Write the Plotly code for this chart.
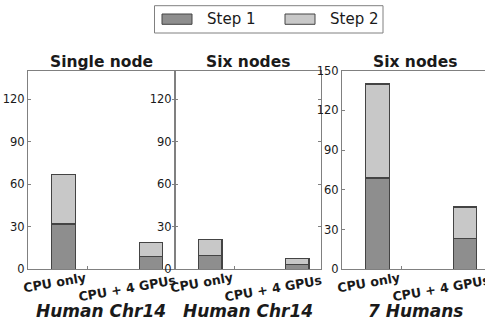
import plotly.graph_objects as go

# ---- data ----
categories = ["CPU only", "CPU + 4 GPUs"]
panel_titles = ["Single node", "Six nodes", "Six nodes"]
group_labels = ["Human Chr14", "Human Chr14", "7 Humans"]
series_names = ["Step 1", "Step 2"]
step1 = [[32, 9], [10, 3.5], [69, 23]]
step2 = [[35, 10], [11, 4], [71, 24]]
y_max = [140, 140, 150]
y_ticks = [[0, 30, 60, 90, 120], [0, 30, 60, 90, 120], [0, 30, 60, 90, 120, 150]]

W, H = 485, 320
def px(x): return x / W
def py(y): return 1 - y / H

colors = ["#8e8e8e", "#c8c8c8"]
edge = "#444444"
axis_col = "#808080"
text_col = "#1a1a1a"
FONT = "DejaVu Sans"

domains = [(28, 175), (175, 321), (342, 485)]
xranges = [[-0.406, 1.274], [-0.406, 1.274], [-0.406, 1.228]]
ydom = [py(269.3), py(70.7)]

fig = go.Figure()
xs = [0, 1]
for p in range(3):
    xa = "x" if p == 0 else f"x{p+1}"
    ya = "y" if p == 0 else f"y{p+1}"
    for s, vals in enumerate([step1[p], step2[p]]):
        fig.add_trace(go.Bar(
            x=xs, y=vals, xaxis=xa, yaxis=ya, width=0.27,
            name=series_names[s], showlegend=False, hoverinfo="skip",
            marker=dict(color=colors[s], line=dict(color=edge, width=1.2)),
        ))

layout = dict(
    width=W, height=H, margin=dict(l=0, r=0, t=0, b=0, autoexpand=False),
    barmode="stack", plot_bgcolor="white", paper_bgcolor="white",
    font=dict(family=FONT, color=text_col), showlegend=False,
)
annotations = []
shapes = []
for p in range(3):
    xk = "xaxis" if p == 0 else f"xaxis{p+1}"
    yk = "yaxis" if p == 0 else f"yaxis{p+1}"
    xref = "x" if p == 0 else f"x{p+1}"
    d0, d1 = domains[p]
    layout[xk] = dict(
        domain=[px(d0), px(d1)], range=xranges[p], anchor=xref.replace("x", "y"),
        showline=True, linecolor=axis_col, linewidth=1, mirror=True,
        showgrid=False, zeroline=False, showticklabels=False, automargin=False,
        tickvals=[0.277], ticks="inside", ticklen=3, tickcolor=axis_col,
    )
    layout[yk] = dict(
        domain=ydom, range=[0, y_max[p]], anchor=xref, automargin=False,
        showline=True, linecolor=axis_col, linewidth=1,
        mirror=("ticks" if p < 2 else False),
        showgrid=False, zeroline=False,
        tickvals=y_ticks[p], ticks="inside", ticklen=3, tickcolor=axis_col,
        tickfont=dict(size=11.5, family=FONT, color=text_col),
    )
    # panel title
    cx = (d0 + d0 + 146) / 2
    annotations.append(dict(
        text=f"<b>{panel_titles[p]}</b>", x=px(cx), y=py(62), xref="paper", yref="paper",
        showarrow=False, xanchor="center", yanchor="middle",
        font=dict(size=15.5, family=FONT, color=text_col)))
    # group label
    annotations.append(dict(
        text=f"<b><i>{group_labels[p]}</i></b>", x=px(cx), y=py(310.5), xref="paper", yref="paper",
        showarrow=False, xanchor="center", yanchor="middle",
        font=dict(size=17, family=FONT, color=text_col)))
    # rotated category labels
    for i, cat in enumerate(categories):
        off = -0.1 if i == 0 else -0.28
        yy = 282 if i == 0 else 288.5
        annotations.append(dict(
            text=f"<b>{cat}</b>", x=i + off, y=py(yy), xref=xref, yref="paper",
            showarrow=False, xanchor="center", yanchor="middle", textangle=-10,
            font=dict(size=12.6, family=FONT, color=text_col)))

# custom legend
shapes.append(dict(type="rect", xref="paper", yref="paper",
                   x0=px(154.5), x1=px(383), y0=py(33), y1=py(5.7),
                   line=dict(color="#808080", width=1), fillcolor="white"))
for s, (sx, tx) in enumerate([(162, 205), (285, 328)]):
    shapes.append(dict(type="rect", xref="paper", yref="paper",
                       x0=px(sx), x1=px(sx + 30), y0=py(24.3), y1=py(14),
                       line=dict(color=edge, width=1), fillcolor=colors[s]))
    annotations.append(dict(
        text=series_names[s], x=px(tx), y=py(19.5), xref="paper", yref="paper",
        showarrow=False, xanchor="left", yanchor="middle",
        font=dict(size=15, family=FONT, color=text_col)))

layout["annotations"] = annotations
layout["shapes"] = shapes
fig.update_layout(**layout)
fig.write_html(
    "out.html",
    config={"displayModeBar": False, "staticPlot": True},
    post_script="document.body.style.margin='0';document.body.style.overflow='hidden';",
)
